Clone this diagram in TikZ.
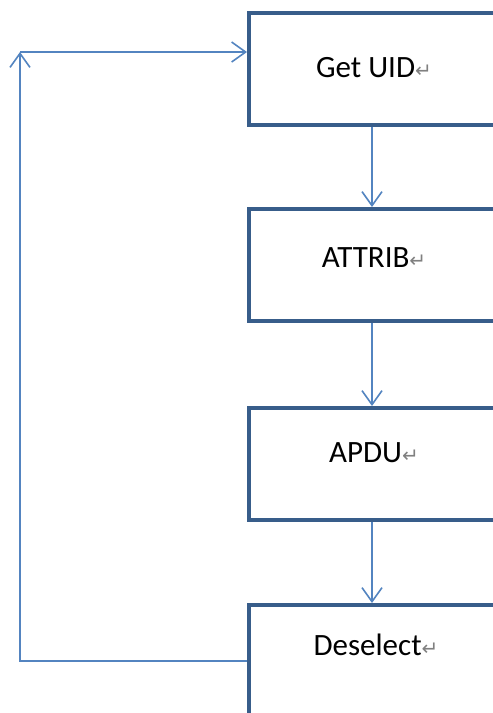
\documentclass[tikz,border=0pt]{standalone}
\usepackage{fontspec}
\setmainfont{Carlito}
\newfontfamily\retfont{DejaVu Sans}
\usetikzlibrary{arrows.meta}
\definecolor{boxblue}{HTML}{385D8A}
\definecolor{lineblue}{HTML}{5384C0}
\newcommand{\ret}{{\retfont\fontsize{10}{10}\selectfont\color{gray}↵}}

\begin{document}
\begin{tikzpicture}[x=.5pt, y=-.5pt,
		box/.style={draw=boxblue, line width=2pt, minimum width=123pt, minimum height=56pt},
		txt/.style={font=\fontsize{15.5}{18}\selectfont, inner sep=0pt, anchor=base},
		link/.style={draw=lineblue, line width=.8pt, -{Straight Barb[length=7pt, width=10pt]}}]
		\useasboundingbox (0,0) rectangle (493,713);
		% boxes
		\node[box] (uid) at (372,69) {};
		\node[box] (attrib) at (372,265) {};
		\node[box] (apdu) at (372,464) {};
		\node[box] (desel) at (372,661) {};
		% texts
		\node[txt] (uidtxt) at (374,77) {Get UID\ret};
		\node[txt] (attribtxt) at (374,267) {ATTRIB\ret};
		\node[txt] (apdutxt) at (374,462) {APDU\ret};
		\node[txt] (deseltxt) at (376,655) {Deselect\ret};
		% arrows
		\draw[link] (uid) -- (attrib);
		\draw[link] (attrib) -- (apdu);
		\draw[link] (apdu) -- (desel);
		\coordinate (turn) at (20,52);
		\draw[link] (desel.west) -| (turn);
		\draw[link] (turn) -- (turn -| uid.west);
\end{tikzpicture}
\end{document}
